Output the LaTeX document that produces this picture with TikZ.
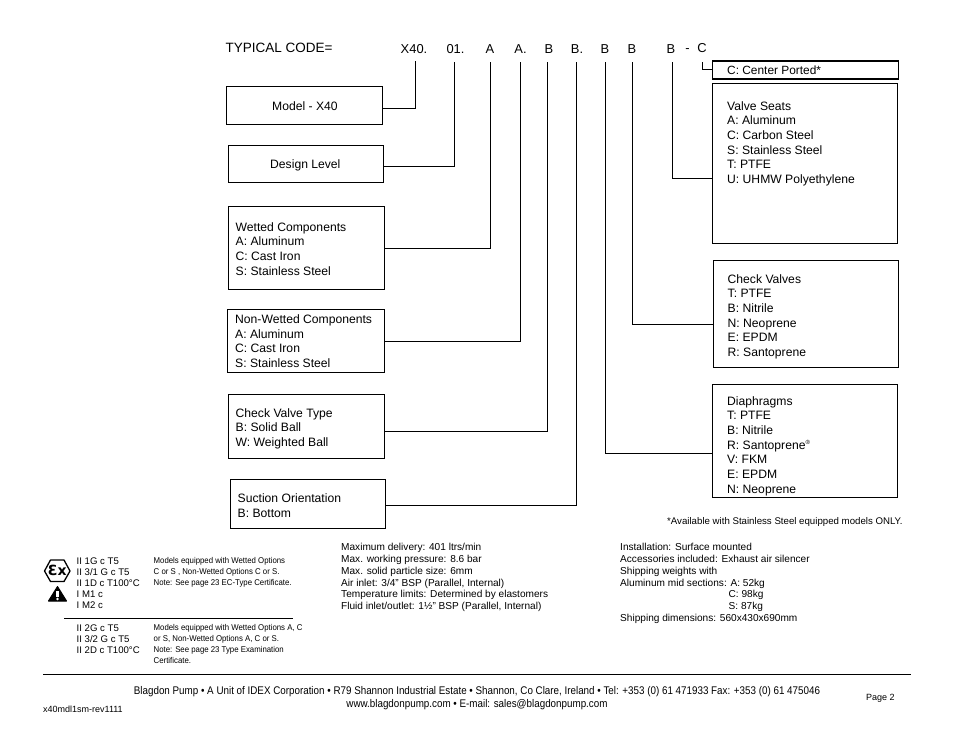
\documentclass[tikz,border=0pt]{standalone}
\usepackage{fontspec}
\setmainfont{Liberation Sans}
\newfontfamily\exfont{DejaVu Sans}
\usetikzlibrary{calc}
\tikzset{
  box/.style={draw=black,line width=1pt,inner sep=0pt,outer sep=0pt,fill=none},
  conn/.style={draw=black,line width=1pt},
  txt/.style={inner sep=0pt,anchor=base west,align=left},
  body/.style={txt,font=\fontsize{12.15}{14.7}\selectfont},
  code/.style={inner sep=0pt,anchor=base,font=\fontsize{12.9}{16}\selectfont},
  spec/.style={txt,font=\fontsize{10.1}{11.85}\selectfont},
  ex/.style={txt,font=\fontsize{9.6}{10.9}\selectfont},
  exnote/.style={txt,font=\fontsize{8.4}{10.9}\selectfont\addfontfeatures{FakeStretch=0.93}},
  foot/.style={inner sep=0pt,anchor=base,font=\fontsize{11.1}{14}\selectfont\addfontfeatures{FakeStretch=0.885}},
}
\newcommand{\mkbox}[5]{\node[box,anchor=north west,minimum width=#4pt-#2pt,minimum height=#5pt-#3pt] (#1) at (#2,#3) {};}
\begin{document}
\begin{tikzpicture}[x=1pt,y=-1pt]
\useasboundingbox (0,0) rectangle (954,738);
% code row
\node[txt,font=\fontsize{13.5}{16}\selectfont] (title) at (225.5,53) {TYPICAL CODE=};
\node[code] (tA) at (414,54) {X40.};
\node[code] (tB) at (455.5,54) {01.};
\node[code] (tC) at (490,54) {A};
\node[code] (tD) at (520.5,54) {A.};
\node[code] (tE) at (549,54) {B};
\node[code] (tF) at (577,54) {B.};
\node[code] (tG) at (605,54) {B};
\node[code] (tH) at (632,54) {B};
\node[code] (tI) at (671,54) {B};
\node[code] (tDash) at (687.5,53) {-};
\node[code] (tJ) at (702,52.5) {C};
\coordinate (cA) at (415.5,61);
\coordinate (cB) at (454.5,62);
\coordinate (cC) at (490.5,62);
\coordinate (cD) at (520.5,62);
\coordinate (cE) at (547.5,62);
\coordinate (cF) at (576.5,62);
\coordinate (cG) at (605.5,62);
\coordinate (cH) at (632.5,62);
\coordinate (cI) at (672.5,62);
\coordinate (cJ) at (702,62);
% boxes
\mkbox{bModel}{226.5}{86.5}{382.5}{124.5}
\mkbox{bDesign}{228.5}{145.5}{383.5}{182.5}
\mkbox{bWet}{228.5}{206.5}{384.5}{289.5}
\mkbox{bNon}{227.5}{309.5}{384.5}{372.5}
\mkbox{bCheckT}{228.5}{394.5}{384.5}{458.5}
\mkbox{bSuct}{230.5}{479.5}{385.5}{528.5}
\mkbox{bSeat}{712.5}{83.5}{897.5}{243.5}
\mkbox{bCheck}{713.5}{260.5}{898.5}{367.5}
\mkbox{bDia}{712.5}{384.5}{897.5}{497.5}
\node[box,line width=1.5pt,anchor=north west,minimum width=186pt,minimum height=18pt] (bCtr) at (712.5,61) {};
% connectors
\draw[conn] (bModel.east) ++(0,3) coordinate (kA) -- (kA -| cA) -- (cA);
\draw[conn] (bDesign.east) ++(0,3) coordinate (kB) -- (kB -| cB) -- (cB);
\draw[conn] (bWet.east) ++(0,1) coordinate (kC) -- (kC -| cC) -- (cC);
\draw[conn] (bNon.east) ++(0,1) coordinate (kD) -- (kD -| cD) -- (cD);
\draw[conn] (bCheckT.east) ++(0,4.5) coordinate (kE) -- (kE -| cE) -- (cE);
\draw[conn] (bSuct.east) ++(0,1) coordinate (kF) -- (kF -| cF) -- (cF);
\draw[conn] (bDia.west) ++(0,12) coordinate (kG) -- (kG -| cG) -- (cG);
\draw[conn] (bCheck.west) ++(0,11) coordinate (kH) -- (kH -| cH) -- (cH);
\draw[conn] (bSeat.west) ++(0,15) coordinate (kI) -- (kI -| cI) -- (cI);
\draw[conn] (bCtr.west) coordinate (kJ) -- (kJ -| cJ) -- (cJ);
% box texts
\node[body] (xModel) at (272,111) {Model - X40};
\node[body] (xDesign) at (270,169) {Design Level};
\node[body,anchor=north west] (xWet) at (235.5,222) {Wetted Components\\A: Aluminum\\C: Cast Iron\\S: Stainless Steel};
\node[body,anchor=north west] (xNon) at (235,314.5) {Non-Wetted Components\\A: Aluminum\\C: Cast Iron\\S: Stainless Steel};
\node[body,anchor=north west] (xCheckT) at (235.5,408) {Check Valve Type\\B: Solid Ball\\W: Weighted Ball};
\node[body,anchor=north west] (xSuct) at (237.5,493.5) {Suction Orientation\\B: Bottom};
\node[txt,font=\fontsize{11.9}{14}\selectfont] (xCtr) at (727,75) {C: Center Ported*};
\node[body,anchor=north west] (xSeat) at (727,101) {Valve Seats\\A: Aluminum\\C: Carbon Steel\\S: Stainless Steel\\T: PTFE\\U: UHMW Polyethylene};
\node[body,anchor=north west] (xCheck) at (727.5,274) {Check Valves\\T: PTFE\\B: Nitrile\\N: Neoprene\\E: EPDM\\R: Santoprene};
\node[body,anchor=north west] (xDia) at (727,396) {Diaphragms\\T: PTFE\\B: Nitrile\\R: Santoprene\textsuperscript{\fontsize{6}{6}\selectfont ®}\\V: FKM\\E: EPDM\\N: Neoprene};
\node[spec,font=\fontsize{9.67}{12}\selectfont] (xAvail) at (667,524) {*Available with Stainless Steel equipped models ONLY.};
% specs
\node[spec,anchor=north west] (xSpecL) at (341,543) {Maximum delivery: 401 ltrs/min\\Max. working pressure: 8.6 bar\\Max. solid particle size: 6mm\\Air inlet: 3/4" BSP (Parallel, Internal)\\Temperature limits: Determined by elastomers\\Fluid inlet/outlet: 1½" BSP (Parallel, Internal)};
\node[spec,anchor=north west] (xSpecR) at (620,543) {Installation: Surface mounted\\Accessories included: Exhaust air silencer\\Shipping weights with\\Aluminum mid sections: A: 52kg\\\hspace{108.5pt}C: 98kg\\\hspace{108.5pt}S: 87kg\\Shipping dimensions: 560x430x690mm};
% ATEX
\node[ex,anchor=north west] (xEx1) at (76.5,558) {II 1G c T5\\II 3/1 G c T5\\II 1D c T100°C\\I M1 c\\I M2 c};
\node[exnote,anchor=north west] (xN1) at (153.5,557.5) {Models equipped with Wetted Options\\C or S , Non-Wetted Options C or S.\\Note: See page 23 EC-Type Certificate.};
\node[ex,anchor=north west] (xEx2) at (76.5,625) {II 2G c T5\\II 3/2 G c T5\\II 2D c T100°C};
\node[exnote,anchor=north west] (xN2) at (153.5,624.5) {Models equipped with Wetted Options A, C\\or S, Non-Wetted Options A, C or S.\\Note: See page 23 Type Examination\\Certificate.};
\draw[line width=1pt] (64,618.5) -- (293,618.5);
% symbols
\draw[line width=1.3pt,line join=round] (44.5,571) -- (50.5,560) -- (64,560) -- (70,571) -- (64,581.5) -- (50.5,581.5) -- cycle;
\node[inner sep=0pt,font=\exfont\bfseries\fontsize{14}{14}\selectfont] (xSym) at (57.3,570.5) {Ɛx};
\fill[line join=round,draw=black,line width=1pt] (57.5,586.5) -- (66.5,601) -- (48.5,601) -- cycle;
\fill[white] (56.2,590.5) rectangle (58.8,597);
\fill[white] (57.5,599) circle (1.3);
% footer
\draw[line width=1pt] (43,674.5) -- (911,674.5);
\node[foot] (xFoot1) at (477,694) {Blagdon Pump • A Unit of IDEX Corporation • R79 Shannon Industrial Estate • Shannon, Co Clare, Ireland • Tel: +353 (0) 61 471933 Fax: +353 (0) 61 475046};
\node[foot] (xFoot2) at (477,707) {www.blagdonpump.com • E-mail: sales@blagdonpump.com};
\node[txt,font=\fontsize{9}{12}\selectfont] (xRev) at (43,712) {x40mdl1sm-rev1111};
\node[txt,font=\fontsize{9}{12}\selectfont] (xPage) at (866,700) {Page 2};
\end{tikzpicture}
\end{document}
